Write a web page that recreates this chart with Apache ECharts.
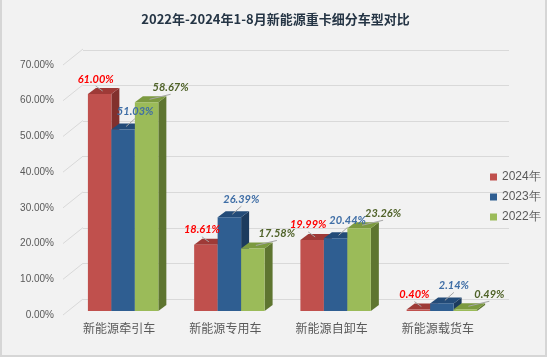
<!DOCTYPE html>
<html><head><meta charset="utf-8">
<script src="https://cdn.jsdelivr.net/npm/echarts@6/dist/echarts.min.js"></script>
<style>html,body{margin:0;padding:0;background:#fff}#c{width:551px;height:364px}</style>
</head><body><div id="c"></div>
<script>
var categories = ['新能源牵引车', '新能源专用车', '新能源自卸车', '新能源载货车'];
var seriesNames = ['2024年', '2023年', '2022年'];
var v2024 = [61.00, 18.61, 19.99, 0.40];
var v2023 = [51.03, 26.39, 20.44, 2.14];
var v2022 = [58.67, 17.58, 23.26, 0.49];
var yTicks = [0, 10, 20, 30, 40, 50, 60, 70];

var values = [v2024, v2023, v2022];
var front = ['#C0504D', '#2F5E91', '#9BBB59'];
var topC = ['#9E3A37', '#234B78', '#7C9A40'];
var side = ['#82302D', '#1C3B5E', '#5E7530'];
var labelC = ['#FF0000', '#3F6EA6', '#4F6228'];
var lblOff = [[-4, -15], [12, -18], [24, -15]];
var DX = 8, DY = 6;

function geom(si, api) {
  var cat = api.value(0), v = api.value(1);
  var base = api.coord([cat, 0]);
  var top = api.coord([cat, v]);
  var band = api.size([1, 0])[0];
  var bw = band * 0.221;
  var x0 = base[0] - bw * 1.5 + si * bw;
  return {v: v, x0: x0, x1: x0 + bw, bw: bw, yb: base[1], yt: top[1], bx: x0 + bw / 2};
}

function makeBar(si) {
  return function (params, api) {
    var g = geom(si, api);
    return {
      type: 'group',
      children: [
        {type: 'polygon', shape: {points: [[g.x1, g.yt], [g.x1 + DX, g.yt - DY], [g.x1 + DX, g.yb - DY], [g.x1, g.yb]]}, style: {fill: side[si]}},
        {type: 'polygon', shape: {points: [[g.x0, g.yt], [g.x0 + DX, g.yt - DY], [g.x1 + DX, g.yt - DY], [g.x1, g.yt]]}, style: {fill: topC[si]}},
        {type: 'rect', shape: {x: g.x0, y: g.yt, width: g.bw, height: g.yb - g.yt}, style: {fill: front[si]}}
      ]
    };
  };
}

function makeLabel(si) {
  return function (params, api) {
    var g = geom(si, api);
    var lx = g.bx + lblOff[si][0], ly = g.yt + lblOff[si][1];
    return {
      type: 'group',
      children: [
        {type: 'line', shape: {x1: lx, y1: ly + 7, x2: g.bx + 3, y2: g.yt - 3}, style: {stroke: '#a6a6a6', lineWidth: 1}},
        {type: 'text', style: {text: g.v.toFixed(2) + '%', x: lx, y: ly, align: 'center', verticalAlign: 'middle', fill: labelC[si], font: 'italic bold 11px Lato'}}
      ]
    };
  };
}

function wallRender(params, api) {
  var y = api.coord([0, api.value(0)])[1];
  var x = params.coordSys.x;
  return {type: 'line', shape: {x1: x, y1: y, x2: x + 20, y2: y - 16}, style: {stroke: '#d9d9d9', lineWidth: 1}};
}

var chart = echarts.init(document.getElementById('c'), null, {renderer: 'canvas'});
var series = [{
  type: 'custom', xAxisIndex: 1, yAxisIndex: 1, renderItem: wallRender,
  data: yTicks.map(function (t) { return [t]; }), silent: true, z: 1
}];
seriesNames.forEach(function (n, si) {
  var d = values[si].map(function (v, i) { return [i, v]; });
  series.push({
    name: n, type: 'custom', xAxisIndex: 2, yAxisIndex: 2,
    itemStyle: {color: front[si]}, renderItem: makeBar(si), data: d, z: 3
  });
  series.push({
    name: n, type: 'custom', xAxisIndex: 2, yAxisIndex: 2,
    itemStyle: {color: front[si]}, renderItem: makeLabel(si), data: d, z: 6
  });
});

chart.setOption({
  backgroundColor: '#ffffff',
  animation: false,
  graphic: [{type: 'rect', shape: {x: 1, y: -2, width: 545, height: 358}, style: {fill: '#f2f2f2', stroke: '#d6d6d6', lineWidth: 2}, z: -10}],
  title: {text: '2022年-2024年1-8月新能源重卡细分车型对比', left: 'center', top: 8,
    textStyle: {fontSize: 13, fontWeight: 'bold', color: '#253545', fontFamily: 'Noto Sans CJK SC'}},
  legend: {orient: 'vertical', left: 485, top: 166, itemWidth: 7, itemHeight: 7, itemGap: 8, icon: 'rect',
    data: seriesNames, textStyle: {fontSize: 12, color: '#595959', fontFamily: 'Liberation Sans'}},
  grid: [
    {left: 83, right: 42, top: 50, bottom: 65},
    {left: 63, right: 42, top: 65, bottom: 49},
    {left: 70, right: 56, top: 62, bottom: 53}
  ],
  xAxis: [
    {gridIndex: 0, type: 'category', data: categories, show: false},
    {gridIndex: 1, type: 'category', data: ['a'], show: false},
    {gridIndex: 2, type: 'category', data: categories,
      axisLine: {show: false}, axisTick: {show: false},
      axisLabel: {margin: 11, color: '#595959', fontSize: 12, fontFamily: 'Noto Sans CJK SC', padding: [0, 8, 0, 0]}}
  ],
  yAxis: [
    {gridIndex: 0, type: 'value', min: 0, max: 70, interval: 10,
      axisLine: {show: false}, axisTick: {show: false}, axisLabel: {show: false},
      splitLine: {lineStyle: {color: '#d9d9d9'}}},
    {gridIndex: 1, type: 'value', min: 0, max: 70, interval: 10,
      axisLine: {show: false}, axisTick: {show: false}, splitLine: {show: false},
      axisLabel: {margin: 9, color: '#595959', fontSize: 10, fontFamily: 'Liberation Sans',
        formatter: function (v) { return v.toFixed(2) + '%'; }}},
    {gridIndex: 2, type: 'value', min: 0, max: 70, interval: 10, show: false, splitLine: {show: false}}
  ],
  series: series
});
</script>
</body></html>
